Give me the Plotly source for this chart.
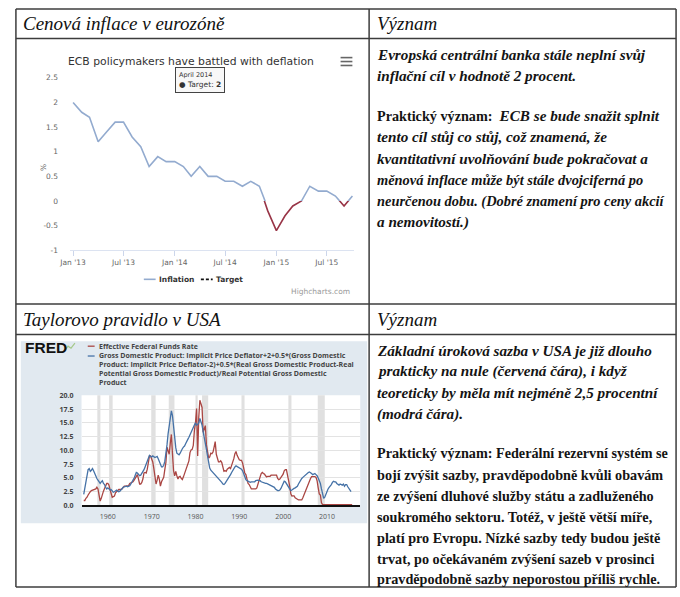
import plotly.graph_objects as go
import pandas as pd

# ---------------- Chart 1 data: euro-area inflation (monthly, from Jan 2013) -------------
inflation_start = "2013-01-01"
inflation = [2.0, 1.8, 1.7, 1.2, 1.4, 1.6, 1.6, 1.3, 1.1, 0.7, 0.9, 0.8,
             0.8, 0.7, 0.5, 0.7, 0.5, 0.5, 0.4, 0.4, 0.3, 0.4, 0.3, -0.2,
             -0.6, -0.3, -0.1, 0.0, 0.3, 0.2, 0.2, 0.1, -0.1, 0.1]
target = [2.0, 2.0, 2.0, 2.0, 2.0, 2.0, 2.0, 2.0, 2.0, 2.0, 2.0, 2.0,
          2.0, 2.0, 2.0, 2.0, 2.0, 2.0, 2.0, 2.0, 2.0, 2.0, 2.0, 2.0,
          2.0, 2.0, 2.0, 2.0, 2.0, 2.0, 2.0, 2.0, 2.0, 2.0]
tooltip_month = "2014-04-01"
c1_ytick_vals = [-1, -0.5, 0, 0.5, 1, 1.5, 2, 2.5]
c1_ytick_text = ["-1", "-0.5", "0", "0.5", "1", "1.5", "2", "2.5"]
c1_xticks = ["2013-01-01", "2013-07-01", "2014-01-01", "2014-07-01", "2015-01-01", "2015-07-01"]

# ---------------- Chart 2 data: FRED, quarterly from 1954 Q3 ----------------
fred_start = 1954.5
ffr_1950s = [0.9, 0.9,
             1.3, 1.5, 1.9, 2.3,
             2.5, 2.7, 2.8, 2.9,
             3.0, 3.0, 3.3, 3.0,
             1.9, 0.8, 1.3, 2.3,
             2.6, 3.1, 3.6, 4.0]
ffr_1960s = [4.0, 3.7, 2.9, 2.3,
             1.5, 1.6, 1.7, 2.3,
             2.5, 2.6, 2.9, 2.9,
             2.9, 3.0, 3.3, 3.5,
             3.5, 3.5, 3.5, 3.6,
             4.0, 4.1, 4.1, 4.3,
             4.6, 4.9, 5.4, 5.6,
             4.8, 3.9, 3.9, 4.2,
             4.8, 5.9, 6.0, 5.9,
             6.6, 8.3, 9.0, 9.0]
ffr_1970s = [8.6, 7.9, 6.7, 5.6,
             3.9, 4.6, 5.5, 4.8,
             3.5, 4.3, 4.7, 5.1,
             6.5, 7.8, 10.6, 10.0,
             9.3, 11.3, 12.9, 9.4,
             6.3, 5.4, 6.2, 5.4,
             4.8, 5.2, 5.3, 4.9,
             4.7, 5.2, 5.8, 6.5,
             6.8, 7.3, 8.1, 9.6,
             10.1, 10.2, 10.9, 13.6]
ffr_1980s = [15.0, 17.6, 9.0, 16.0,
             19.1, 18.5, 17.8, 13.3,
             14.2, 14.5, 11.0, 9.3,
             8.6, 8.8, 9.5, 9.4,
             9.7, 10.6, 11.6, 9.3,
             8.5, 7.9, 7.9, 8.1,
             7.8, 6.9, 6.2, 6.3,
             6.2, 6.6, 6.8, 6.9,
             6.7, 7.2, 8.0, 8.5,
             9.4, 9.8, 9.1, 8.6]
ffr_1990s = [8.3, 8.2, 8.2, 7.7,
             6.4, 5.9, 5.6, 4.8,
             4.0, 3.8, 3.3, 3.0,
             3.0, 3.0, 3.1, 3.0,
             3.2, 4.0, 4.5, 5.2,
             5.8, 6.0, 5.8, 5.7,
             5.4, 5.2, 5.3, 5.3,
             5.3, 5.5, 5.5, 5.5,
             5.5, 5.5, 5.5, 4.9,
             4.7, 4.8, 5.1, 5.3]
ffr_2000s = [5.7, 6.3, 6.5, 6.5,
             5.6, 4.3, 3.5, 2.1,
             1.7, 1.75, 1.75, 1.4,
             1.25, 1.25, 1.0, 1.0,
             1.0, 1.0, 1.4, 1.95,
             2.5, 2.9, 3.4, 3.9,
             4.5, 4.9, 5.25, 5.25,
             5.26, 5.25, 5.1, 4.5,
             3.2, 2.1, 1.9, 0.5,
             0.18, 0.18, 0.16, 0.12]
ffr_2010s = [0.13, 0.19, 0.19, 0.19,
             0.16, 0.09, 0.08, 0.07,
             0.10, 0.15, 0.14, 0.16,
             0.14, 0.12, 0.08, 0.09,
             0.07, 0.09, 0.09, 0.10,
             0.11, 0.13, 0.14, 0.16]

taylor_1950s = [2.0, 3.0,
                4.3, 5.6, 6.5, 6.7,
                6.2, 6.4, 6.7, 6.3,
                5.7, 5.4, 4.9, 4.6,
                4.3, 4.0, 4.3, 4.5,
                4.0, 3.8, 3.3, 3.0]
taylor_1960s = [3.2, 3.0, 2.8, 2.9,
                2.6, 2.4, 2.5, 2.7,
                2.8, 2.6, 2.5, 2.6,
                2.9, 3.1, 3.3, 3.4,
                3.5, 3.5, 3.4, 3.5,
                3.6, 3.9, 4.2, 4.5,
                5.0, 5.5, 6.0, 5.9,
                5.6, 5.4, 5.5, 5.8,
                6.2, 6.5, 7.0, 7.6,
                8.3, 8.8, 9.1, 8.9]
taylor_1970s = [8.8, 9.0, 8.8, 8.7,
                8.8, 8.9, 8.5, 8.0,
                7.6, 7.0, 7.0, 7.3,
                8.0, 9.2, 11.0, 13.0,
                14.5, 16.2, 17.2, 16.3,
                14.2, 12.0, 10.5, 9.5,
                9.3, 9.2, 9.5, 10.0,
                10.3, 10.6, 10.8, 11.2,
                11.5, 12.0, 12.4, 12.9,
                13.4, 13.9, 14.2, 14.6]
taylor_1980s = [15.0, 14.6, 14.7, 15.0,
                15.8, 15.3, 14.6, 13.4,
                12.5, 11.5, 10.2, 9.0,
                7.5, 6.8, 6.4, 6.2,
                6.0, 5.8, 5.6, 5.3,
                5.0, 4.8, 4.6, 4.5,
                4.2, 3.9, 3.8, 4.0,
                4.3, 4.5, 4.9, 5.3,
                5.6, 6.0, 6.4, 6.7,
                7.0, 7.2, 7.1, 6.9]
taylor_1990s = [6.8, 6.8, 6.6, 6.3,
                5.6, 5.0, 4.7, 4.5,
                4.4, 4.3, 4.2, 4.3,
                4.3, 4.2, 4.3, 4.5,
                4.6, 4.6, 4.5, 4.5,
                4.3, 4.2, 4.2, 4.1,
                4.0, 4.0, 3.9, 3.9,
                3.8, 3.7, 3.6, 3.5,
                3.3, 3.0, 2.8, 2.7,
                2.7, 2.8, 3.1, 3.5]
taylor_2000s = [4.0, 4.4, 4.3, 4.0,
                3.6, 3.2, 2.9, 2.7,
                2.8, 3.0, 3.1, 3.2,
                3.3, 3.5, 3.9, 4.3,
                4.6, 4.9, 5.1, 5.3,
                5.5, 5.6, 5.8, 6.0,
                6.1, 6.0, 5.8, 5.6,
                5.7, 5.8, 5.6, 5.4,
                5.0, 4.6, 4.0, 3.0,
                1.8, 1.3, 1.5, 2.1]
taylor_2010s = [2.7, 3.0, 3.3, 3.5,
                3.8, 4.2, 4.4, 4.3,
                4.3, 4.0, 3.8, 3.7,
                3.9, 3.8, 3.7, 3.9,
                3.5, 3.8, 3.8, 3.4,
                3.0, 2.6, 2.5]

rec_start = [1957.6, 1960.3, 1969.9, 1973.9, 1980.0, 1981.5, 1990.5, 2001.2, 2007.9]
rec_end = [1958.3, 1961.1, 1970.9, 1975.2, 1980.5, 1982.9, 1991.2, 2001.9, 2009.5]
fred_xticks = [1960, 1970, 1980, 1990, 2000, 2010]
fred_legend = ["Effective Federal Funds Rate",
               "Gross Domestic Product: Implicit Price Deflator+2+0.5*(Gross Domestic",
               "Product: Implicit Price Deflator-2)+0.5*(Real Gross Domestic Product-Real",
               "Potential Gross Domestic Product)/Real Potential Gross Domestic",
               "Product"]

# ---------------- Texts ----------------
head_left_1 = "Cenová inflace v eurozóně"
head_left_2 = "Taylorovo pravidlo v USA"
head_right = "Význam"
BI = "<b><i style='font-size:15.2px'>{}</i></b>"
BIS = "<b><i style='font-size:14.4px'>{}</i></b>"
top_lines = [
    BI.format("Evropská centrální banka stále neplní svůj"),
    BI.format("inflační cíl v hodnotě 2 procent."),
    "<b>Praktický význam:</b>  " + BI.format("ECB se bude snažit splnit"),
    BI.format("tento cíl stůj co stůj, což znamená, že"),
    BI.format("kvantitativní uvolňování bude pokračovat a"),
    BIS.format("měnová inflace může být stále dvojciferná po"),
    BIS.format("neurčenou dobu. (Dobré znamení pro ceny akcií"),
    BI.format("a nemovitostí.)"),
]
top_line_y = [50, 71.5, 112, 134, 156, 177.5, 199.5, 221]
bottom_lines = [
    BI.format("Základní úroková sazba v USA je již dlouho"),
    BI.format("prakticky na nule (červená čára), i když"),
    BI.format("teoreticky by měla mít nejméně 2,5 procentní"),
    BI.format("(modrá čára)."),
    "<b>Praktický význam: Federální rezervní systém se</b>",
    "<b>bojí zvýšit sazby, pravděpodobně kvůli obavám</b>",
    "<b>ze zvýšení dluhové služby státu a zadluženého</b>",
    "<b>soukromého sektoru. Totéž, v ještě větší míře,</b>",
    "<b>platí pro Evropu. Nízké sazby tedy budou ještě</b>",
    "<b>trvat, po očekávaném zvýšení sazeb v prosinci</b>",
    "<b>pravděpodobně sazby neporostou příliš rychle.</b>",
]
bottom_line_y = [351, 372.5, 394, 415.5, 456, 477.5, 499, 520.5, 542, 563.5, 584]

# ---------------- geometry helpers ----------------
W, H = 680, 597
def px(x):
    return x / W
def py(y):
    return 1 - y / H

SERIF = "Liberation Serif"
HC = "DejaVu Sans"
FR = "Open Sans"

months = pd.date_range(inflation_start, periods=len(inflation), freq="MS")
ffr = ffr_1950s + ffr_1960s + ffr_1970s + ffr_1980s + ffr_1990s + ffr_2000s + ffr_2010s
taylor = taylor_1950s + taylor_1960s + taylor_1970s + taylor_1980s + taylor_1990s + taylor_2000s + taylor_2010s
ffr_x = [fred_start + 0.25 * i for i in range(len(ffr))]
taylor_x = [fred_start + 0.25 * i for i in range(len(taylor))]

fig = go.Figure()

BLUE1 = "#93abcf"
RED1 = "#983446"
FRED_RED = "#aa4643"
FRED_BLUE = "#4572a7"

# chart 1 traces
fig.add_trace(go.Scatter(x=months, y=target, mode="lines", xaxis="x", yaxis="y",
                         line=dict(color="#111", width=1.8, dash="3px,2px")))
fig.add_trace(go.Scatter(x=months, y=inflation, mode="lines", xaxis="x2", yaxis="y2",
                         line=dict(color=BLUE1, width=1.6)))
fig.add_trace(go.Scatter(x=months, y=inflation, mode="lines", xaxis="x3", yaxis="y3",
                         line=dict(color=RED1, width=1.6)))
tip_idx = list(months).index(pd.Timestamp(tooltip_month))
fig.add_trace(go.Scatter(x=[months[tip_idx]], y=[target[tip_idx]], mode="markers", xaxis="x", yaxis="y",
                         marker=dict(size=14, color="rgba(0,0,0,0.22)")))
fig.add_trace(go.Scatter(x=[months[tip_idx]], y=[target[tip_idx]], mode="markers", xaxis="x", yaxis="y",
                         marker=dict(size=7, color="#333")))

# chart 2 traces
fig.add_trace(go.Scatter(x=ffr_x, y=ffr, mode="lines", xaxis="x4", yaxis="y4",
                         line=dict(color=FRED_RED, width=1.3)))
fig.add_trace(go.Scatter(x=taylor_x, y=taylor, mode="lines", xaxis="x4", yaxis="y4",
                         line=dict(color=FRED_BLUE, width=1.3)))

c1_xrange = ["2012-12-21", "2015-10-08"]
c1_xdom = [px(60), px(349)]
zero_pix = 74 + 2.5 / 3.5 * (249.5 - 74)

tickfont1 = dict(family=HC, size=7.5, color="#666")
fig.update_layout(
    width=W, height=H, margin=dict(l=0, r=0, t=0, b=0),
    paper_bgcolor="white", plot_bgcolor="white",
    showlegend=False, hovermode=False,
    xaxis=dict(domain=c1_xdom, range=c1_xrange, type="date", anchor="y",
               tickvals=c1_xticks, tickformat="%b '%y", ticks="outside", ticklen=5,
               tickcolor="#ccd6eb", showline=True, linecolor="#ccd6eb", linewidth=1,
               showgrid=False, zeroline=False, tickfont=tickfont1),
    yaxis=dict(domain=[py(249.5), py(74)], range=[-1, 2.5], anchor="x",
               tickvals=c1_ytick_vals, ticktext=c1_ytick_text, gridcolor="#e6e6e6",
               zeroline=False, showline=False, ticks="", tickfont=tickfont1,
               ticklabelstandoff=11),
    xaxis2=dict(domain=c1_xdom, range=c1_xrange, type="date", anchor="y2", visible=False),
    yaxis2=dict(domain=[py(zero_pix), py(74)], range=[0, 2.5], anchor="x2", visible=False),
    xaxis3=dict(domain=c1_xdom, range=c1_xrange, type="date", anchor="y3", visible=False),
    yaxis3=dict(domain=[py(249.5), py(zero_pix)], range=[-1, 0], anchor="x3", visible=False),
    xaxis4=dict(domain=[px(71.7), px(355)], range=[1954.0, 2017.6], anchor="y4",
                tickvals=fred_xticks, ticks="", showgrid=False, zeroline=False,
                showline=True, linecolor="#111", linewidth=2,
                tickfont=dict(family=FR, size=7, color="#555"), ticklabelstandoff=3),
    yaxis4=dict(domain=[py(509), py(397)], range=[0, 20], anchor="x4",
                dtick=2.5, tick0=0, tickformat=".1f", gridcolor="#e3e3e3",
                zeroline=False, showline=False, ticks="",
                tickfont=dict(family=FR, size=7, color="#444", weight="bold"),
                ticklabelstandoff=7),
)

shapes = []
annotations = []

def line(x0, y0, x1, y1, color="#3c3c3c", width=1.5, dash=None):
    d = dict(type="line", xref="paper", yref="paper", x0=px(x0), y0=py(y0), x1=px(x1), y1=py(y1),
             line=dict(color=color, width=width))
    if dash:
        d["line"]["dash"] = dash
    shapes.append(d)

def txt(x, y, s, size, family, color="#141414", xanchor="left", **kw):
    annotations.append(dict(x=px(x), y=py(y), xref="paper", yref="paper", text=s, showarrow=False,
                            xanchor=xanchor, yanchor="middle",
                            font=dict(size=size, family=family, color=color), **kw))

# FRED panel background + plot area
shapes.append(dict(type="rect", xref="paper", yref="paper", x0=px(10), x1=px(362), y0=py(527), y1=py(342),
                   fillcolor="#e1e9f0", line=dict(width=0), layer="below"))
shapes.append(dict(type="rect", xref="x4 domain", yref="y4 domain", x0=0, x1=1, y0=0, y1=1,
                   fillcolor="white", line=dict(width=0), layer="below"))
for s, e in zip(rec_start, rec_end):
    shapes.append(dict(type="rect", xref="x4", yref="y4 domain", x0=s, x1=e, y0=0, y1=1,
                       fillcolor="#e0e0e0", line=dict(width=0), layer="below"))

# table lines
line(5, 4, 676, 4)
line(5, 592, 676, 592)
line(5, 4, 5, 592)
line(676, 4, 676, 592)
line(364, 4, 364, 592)
line(5, 34, 676, 34)
line(5, 304, 676, 304)
line(5, 335, 676, 335)

# headers
for x, y, s in ((10, 19, head_left_1), (370, 19, head_right), (10, 320, head_left_2), (370, 320, head_right)):
    txt(x, y, "<i>" + s + "</i>", 19, SERIF, color="#111")

for s, y in zip(top_lines, top_line_y):
    txt(370, y, s, 14.2, SERIF)
for s, y in zip(bottom_lines, bottom_line_y):
    txt(370, y, s, 14.2, SERIF)

# chart 1 decorations
txt(183, 57, "ECB policymakers have battled with deflation", 10.8, HC, color="#333", xanchor="center")
for yy in (53.5, 57.5, 61.5):
    line(335, yy, 347, yy, color="#666", width=1.6)
annotations.append(dict(x=px(27), y=py(160), xref="paper", yref="paper", text="%", showarrow=False,
                        textangle=-90, font=dict(size=7.5, family=HC, color="#666")))
annotations.append(dict(x=months[tip_idx], y=target[tip_idx], xref="x", yref="y",
                        text="<span style='font-size:6.5px'>April 2014</span><br>● Target: <b>2</b>",
                        showarrow=False, yanchor="bottom", yshift=9, align="left",
                        bgcolor="rgba(247,247,247,0.9)", bordercolor="#444", borderwidth=1, borderpad=3,
                        font=dict(size=7.5, family=HC, color="#333")))
line(135, 279, 147, 279, color=BLUE1, width=1.6)
txt(148, 279, "<b>Inflation</b>", 7.5, HC, color="#333")
line(193, 279, 205, 279, color="#111", width=1.8, dash="3px,2px")
txt(206, 279, "<b>Target</b>", 7.5, HC, color="#333")
txt(347, 291, "Highcharts.com", 7.5, HC, color="#999", xanchor="right")

# chart 2 decorations
txt(12, 348, "<b>FRED</b>", 15.5, "Liberation Sans", color="#111")
shapes.append(dict(type="path", xref="paper", yref="paper",
                   path="M {} {} L {} {} L {} {} L {} {}".format(px(55), py(351), px(58), py(347),
                                                              px(61), py(349), px(65), py(344)),
                   line=dict(color="#a6c98a", width=1.2)))
line(78, 347, 85, 347, color=FRED_RED, width=1.3)
line(78, 357, 85, 357, color=FRED_BLUE, width=1.3)
for i, s in enumerate(fred_legend):
    txt(87, 347 + i * 9.2, "<b>" + s + "</b>", 7, FR, color="#444")

fig.update_layout(shapes=shapes, annotations=annotations)
fig.write_html(
    "out.html",
    config={"displayModeBar": False, "responsive": False},
    post_script=("document.documentElement.style.overflow='hidden';"
                 "document.body.style.margin='0';document.body.style.padding='0';"
                 "document.body.style.overflow='hidden';"
                 "var d=document.getElementById('{plot_id}');"
                 "d.style.position='absolute';d.style.left='0px';d.style.top='0px';"
                 "d.style.overflow='hidden';"
                 "d.querySelectorAll('svg').forEach(function(s){s.style.overflow='hidden';});"),
)
